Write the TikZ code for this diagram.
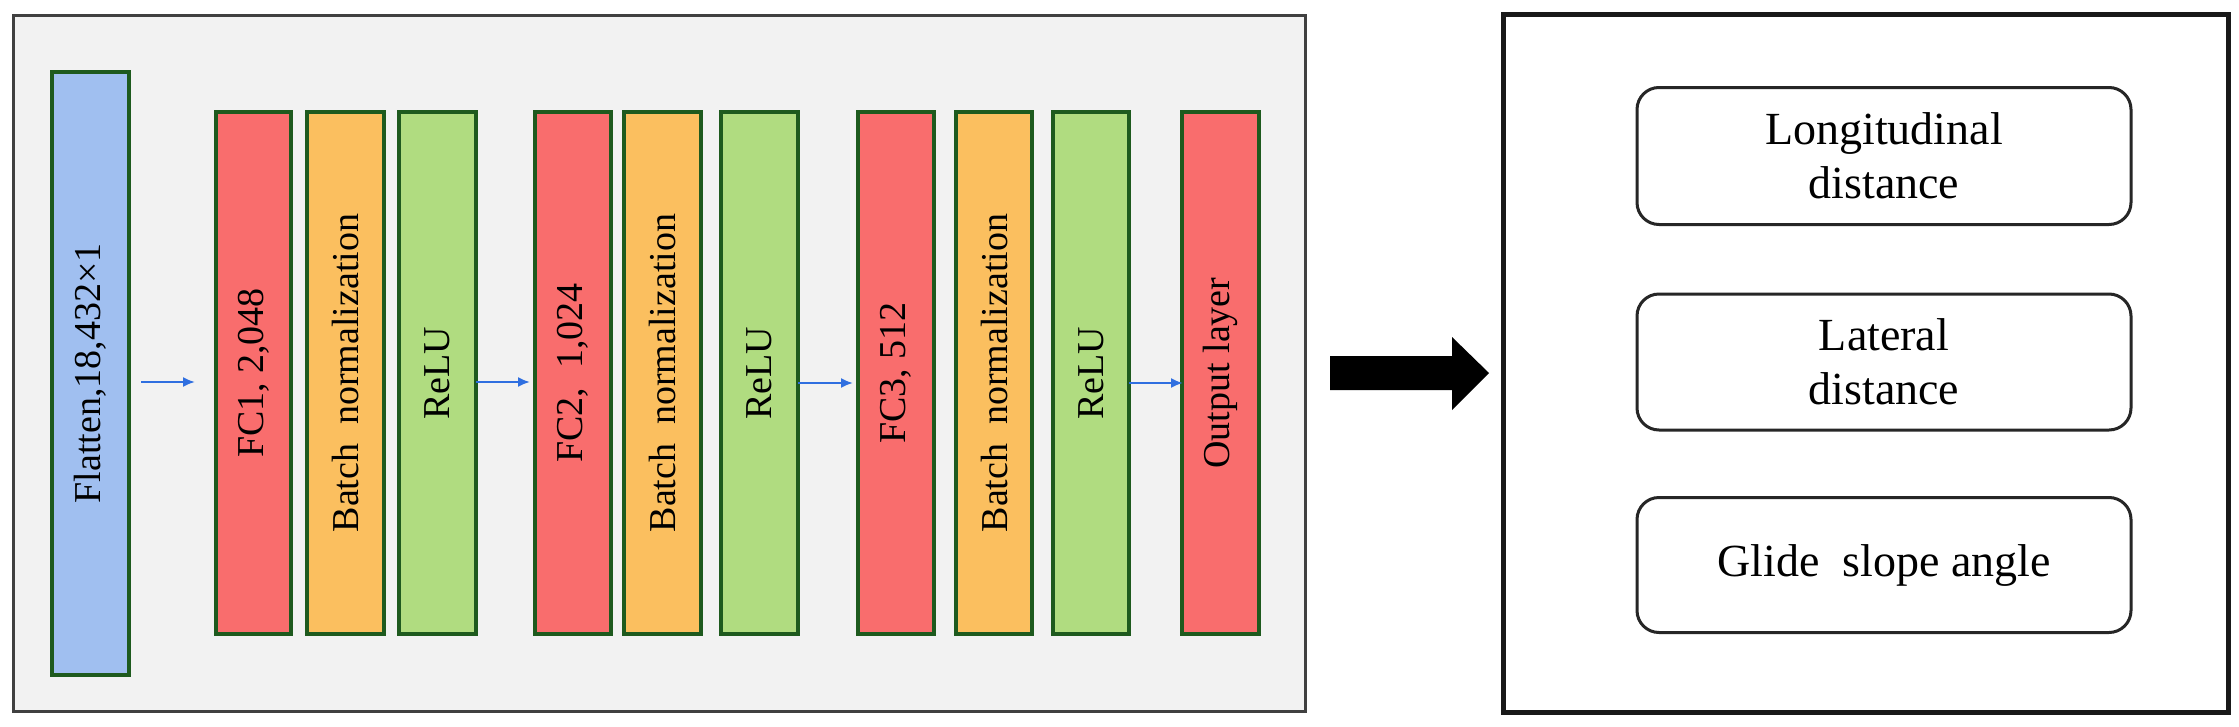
\documentclass[tikz,border=0pt]{standalone}
\usepackage{fontspec}
\setmainfont{Liberation Serif}
\usetikzlibrary{arrows.meta}
\definecolor{barline}{HTML}{1E5A1E}
\definecolor{cblue}{HTML}{A0BFF0}
\definecolor{cred}{HTML}{F96D6D}
\definecolor{corange}{HTML}{FBBF5F}
\definecolor{cgreen}{HTML}{B0DC80}
\definecolor{arrblue}{HTML}{2F6FE0}
\definecolor{bg}{HTML}{F2F2F2}
\begin{document}
\begin{tikzpicture}[x=1pt,y=-1pt,
 bar/.style={draw=barline,line width=4pt,inner sep=0pt},
 lbl/.style={rotate=90,font=\fontsize{38}{40}\selectfont},
 conn/.style={draw=arrblue,line width=2pt,-{Latex[length=12pt,width=10pt]}},
 outbox/.style={draw=black!85,line width=3pt,rounded corners=22pt,align=center,font=\fontsize{46}{54}\selectfont}]
\useasboundingbox (0,0) rectangle (2239,726);
\fill[white] (0,0) rectangle (2239,726);
\draw[fill=bg,draw=black!75,line width=3pt] (13,15) rectangle (1305,711);
\draw[draw=black!90,line width=5pt] (1503,14) rectangle (2228,712);
% bars
\path[bar,fill=cblue] (52,72) rectangle (129,675) node[midway,lbl] (fl) {Flatten,18,432×1};
\path[bar,fill=cred] (216,112) rectangle (291,634) node[midway,lbl] (fc1) {FC1, 2,048};
\path[bar,fill=corange] (307,112) rectangle (384,634) node[midway,lbl] (bn1) {Batch\ \ normalization};
\path[bar,fill=cgreen] (399,112) rectangle (476,634) node[midway,lbl] (r1) {ReLU};
\path[bar,fill=cred] (535,112) rectangle (611,634) node[midway,lbl] (fc2) {FC2,\ \ 1,024};
\path[bar,fill=corange] (624,112) rectangle (701,634) node[midway,lbl] (bn2) {Batch\ \ normalization};
\path[bar,fill=cgreen] (721,112) rectangle (798,634) node[midway,lbl] (r2) {ReLU};
\path[bar,fill=cred] (858,112) rectangle (934,634) node[midway,lbl] (fc3) {FC3, 512};
\path[bar,fill=corange] (956,112) rectangle (1032,634) node[midway,lbl] (bn3) {Batch\ \ normalization};
\path[bar,fill=cgreen] (1053,112) rectangle (1129,634) node[midway,lbl] (r3) {ReLU};
\path[bar,fill=cred] (1182,112) rectangle (1259,634) node[midway,lbl] (ol) {Output layer};
\coordinate (a1s) at (141,382); \coordinate (a1e) at (195,382);
\coordinate (a2s) at (476,382); \coordinate (a2e) at (530,382);
\coordinate (a3s) at (798,383); \coordinate (a3e) at (853,383);
\coordinate (a4s) at (1129,383); \coordinate (a4e) at (1183,383);
\draw[conn] (a1s) -- (a1e);
\draw[conn] (a2s) -- (a2e);
\draw[conn] (a3s) -- (a3e);
\draw[conn] (a4s) -- (a4e);
% big arrow
\fill[black] (1330,356) -- (1452,356) -- (1452,337) -- (1489,373) -- (1452,410) -- (1452,390) -- (1330,390) -- cycle;
% outputs
\node[outbox,minimum width=494pt,minimum height=137pt] (o1) at (1884,156) {Longitudinal\\distance};
\node[outbox,minimum width=494pt,minimum height=136pt] (o2) at (1884,362) {Lateral\\distance};
\node[outbox,minimum width=494pt,minimum height=135pt] (o3) at (1884,565) {Glide\ \ slope angle};
\end{tikzpicture}
\end{document}
